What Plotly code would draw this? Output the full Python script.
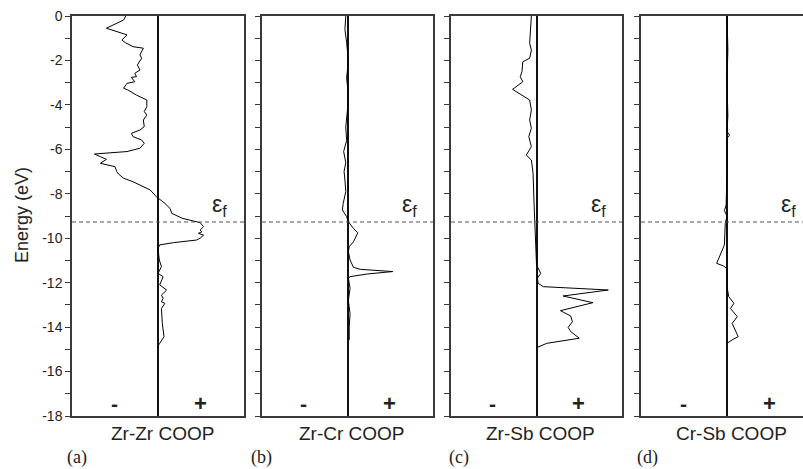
import plotly.graph_objects as go

# ---------------- data ----------------
EF = -9.27

zrzr_e = [0, -0.18, -0.55, -0.78, -0.85, -1.08, -1.2, -1.38, -1.45, -1.75, -1.9, -2.2, -2.43, -2.58,
          -2.73, -2.76, -2.96, -3.03, -3.25, -3.33, -3.56, -3.78, -4.08, -4.3, -4.46, -4.68, -4.98,
          -5.13, -5.28, -5.43, -5.58, -5.73, -5.95, -6.1, -6.15, -6.21, -6.33, -6.45, -6.63, -6.78,
          -7.0, -7.11, -7.3, -7.46, -7.83, -8.13, -8.43, -8.66, -8.88, -9.1, -9.3, -9.48, -9.63,
          -9.71, -9.78, -9.86, -10.0, -10.08, -10.2, -10.3, -10.46, -10.98, -11.28, -11.58, -11.73,
          -11.96, -12.1, -12.33, -12.56, -12.7, -12.86, -12.93, -13.16, -13.83, -14.13, -14.43,
          -14.73, -14.85]
zrzr_v = [-0.375, -0.40, -0.60, -0.42, -0.36, -0.42, -0.38, -0.29, -0.17, -0.21, -0.19, -0.24, -0.21,
          -0.27, -0.25, -0.31, -0.27, -0.36, -0.40, -0.35, -0.25, -0.13, -0.13, -0.16, -0.13, -0.17,
          -0.16, -0.21, -0.31, -0.29, -0.19, -0.16, -0.21, -0.36, -0.56, -0.74, -0.67, -0.60, -0.67,
          -0.50, -0.48, -0.46, -0.40, -0.29, -0.09, -0.02, 0.08, 0.14, 0.16, 0.28, 0.49, 0.53, 0.49,
          0.51, 0.47, 0.53, 0.49, 0.45, 0.18, 0.02, 0.0, 0.015, 0.04, 0.0, 0.06, 0.04, 0.02, 0.10,
          0.04, 0.06, 0.04, 0.08, 0.04, 0.05, 0.06, 0.07, 0.02, 0.0]

zrcr_e = [0, -0.6, -1.2, -2.0, -2.8, -3.5, -4.2, -5.0, -5.6, -6.1, -6.6, -7.0, -7.38, -7.9, -8.43,
          -8.73, -9.03, -9.26, -9.56, -9.75, -10.0, -10.16, -10.38, -10.6, -10.98, -11.31, -11.4,
          -11.5, -11.61, -11.73, -11.8, -12.25, -12.8, -13.4, -14.0, -14.58]
zrcr_v = [-0.02, -0.03, -0.01, 0.01, -0.01, 0.01, 0.0, -0.02, -0.01, -0.045, -0.02, -0.04, -0.03, -0.02,
          -0.05, -0.06, -0.01, 0.01, 0.07, 0.12, 0.09, 0.07, 0.02, 0.01, 0.03, 0.07, 0.15, 0.53,
          0.23, 0.03, 0.01, 0.03, 0.01, 0.03, 0.02, 0.02]

zrsb_e = [0, -0.78, -1.23, -1.53, -1.9, -2.06, -2.5, -2.73, -2.96, -3.3, -3.48, -3.78, -4.23, -4.68,
          -5.05, -5.43, -5.88, -6.26, -6.48, -7.08, -8.28, -9.26, -10.5, -11.2, -11.58, -11.8,
          -12.03, -12.18, -12.33, -12.6, -12.9, -13.26, -13.5, -13.76, -14.01, -14.2, -14.5,
          -14.73, -14.91]
zrsb_v = [-0.06, -0.07, -0.08, -0.06, -0.08, -0.16, -0.17, -0.19, -0.16, -0.28, -0.20, -0.08, -0.06,
          -0.08, -0.06, -0.09, -0.06, -0.12, -0.06, -0.04, -0.03, -0.02, 0.0, 0.0, 0.05, 0.01,
          0.02, 0.08, 0.84, 0.31, 0.66, 0.28, 0.40, 0.42, 0.37, 0.40, 0.50, 0.12, 0.01]

crsb_e = [0, -1.5, -3.0, -4.5, -5.2, -5.36, -5.5, -7.0, -8.5, -8.76, -9.0, -9.33, -10.3, -11.13,
          -11.25, -11.36, -12.18, -12.63, -12.93, -13.16, -13.53, -13.83, -14.43, -14.55, -14.73]
crsb_v = [0.0, 0.01, 0.0, 0.01, 0.0, 0.03, 0.0, 0.0, -0.01, -0.03, 0.0, -0.02, -0.03, -0.12,
          -0.04, 0.0, 0.0, 0.02, 0.08, 0.04, 0.12, 0.06, 0.13, 0.07, 0.0]

panel_titles = ["Zr-Zr COOP", "Zr-Cr COOP", "Zr-Sb COOP", "Cr-Sb COOP"]
panel_letters = ["(a)", "(b)", "(c)", "(d)"]
major_vals = [0, -2, -4, -6, -8, -10, -12, -14, -16, -18]
major_text = ["0", "-2", "-4", "-6", "-8", "-10", "-12", "-14", "-16", "-18"]
minor_vals = [-1, -3, -5, -7, -9, -11, -13, -15, -17]

series = [(zrzr_v, zrzr_e), (zrcr_v, zrcr_e), (zrsb_v, zrsb_e), (crsb_v, crsb_e)]

# ---------------- layout geometry ----------------
W, H = 803, 469
ML, MR, MT, MB = 72, 0, 16, 53
PW = W - ML - MR
PH = H - MT - MB
domains = [[0, 172 / PW], [190 / PW, 361 / PW], [379 / PW, 550 / PW], [569 / PW, 1.0]]
xranges = [[-1, 1], [-1, 1], [-1, 1], [-1, 76 / 86]]
letter_x = [77, 261, 459, 647]

SANS = "Liberation Sans"
SERIF = "Liberation Serif"
TXT = "#222222"
FRAME = "#3a3a3a"


def f(size, family=SANS):
    return dict(family=family, size=size, color=TXT)


fig = go.Figure()

for i, (xv, yv) in enumerate(series):
    n = "" if i == 0 else str(i + 1)
    xa = dict(domain=domains[i], range=xranges[i], showgrid=False, showticklabels=False,
              ticks="", showline=True, mirror=True, linecolor=FRAME, linewidth=1.5,
              zeroline=True, zerolinecolor="#111111", zerolinewidth=1.5,
              anchor="y" + n)
    ya = dict(range=[-18, 0], anchor="x" + n, showgrid=False, zeroline=False,
              showline=True, mirror=(i < 3), linecolor=FRAME, linewidth=1.5,
              tickmode="array", tickvals=major_vals,
              ticktext=major_text, showticklabels=(i == 0),
              ticks="outside", ticklen=5, tickwidth=1, tickcolor=FRAME,
              minor=dict(tickmode="array", tickvals=minor_vals, ticks="outside",
                         ticklen=5, tickwidth=1, tickcolor=FRAME),
              tickfont=f(14))
    fig.add_trace(go.Scatter(x=xv, y=yv, mode="lines", line=dict(color="black", width=1),
                             xaxis="x" + n, yaxis="y" + n, showlegend=False, hoverinfo="skip"))
    fig.update_layout({"xaxis" + n: xa, "yaxis" + n: ya})
    # Fermi level
    fig.add_shape(type="line", xref="x" + n + " domain", yref="y" + n, x0=0, x1=1, y0=EF, y1=EF,
                  line=dict(color="#555555", width=1.2, dash="4px,3px"), layer="above")
    # epsilon_f label
    fig.add_annotation(xref="x" + n, yref="y" + n, x=0.72, y=EF, yanchor="bottom",
                       xanchor="center", yshift=0, text="ε<sub>f</sub>", showarrow=False,
                       font=f(23))
    # sign labels
    fig.add_annotation(xref="x" + n, yref="y" + n, x=-0.51, y=-17.45, text="<b>-</b>",
                       showarrow=False, font=f(21))
    fig.add_annotation(xref="x" + n, yref="y" + n, x=0.49, y=-17.45, text="<b>+</b>",
                       showarrow=False, font=f(22))
    # panel title
    fig.add_annotation(xref="x" + n, yref="paper", x=0, xshift=4, y=(416 - 433) / PH,
                       text=panel_titles[i], showarrow=False, xanchor="center",
                       yanchor="middle", font=f(19))
    # panel letter
    fig.add_annotation(xref="paper", yref="paper", x=(letter_x[i] - ML) / PW,
                       y=(416 - 469) / PH, text=panel_letters[i], showarrow=False,
                       xanchor="center", yanchor="bottom", borderpad=0, font=f(18, SERIF))

# y-axis title
fig.add_annotation(xref="paper", yref="paper", x=(22 - ML) / PW, y=(416 - 215) / PH,
                   text="Energy (eV)", textangle=-90, showarrow=False, xanchor="center",
                   yanchor="middle", font=f(18))

fig.update_layout(width=W, height=H, margin=dict(l=ML, r=MR, t=MT, b=MB),
                  plot_bgcolor="white", paper_bgcolor="white",
                  font=dict(family=SANS, size=14, color=TXT))

fig.write_html("out.html")
